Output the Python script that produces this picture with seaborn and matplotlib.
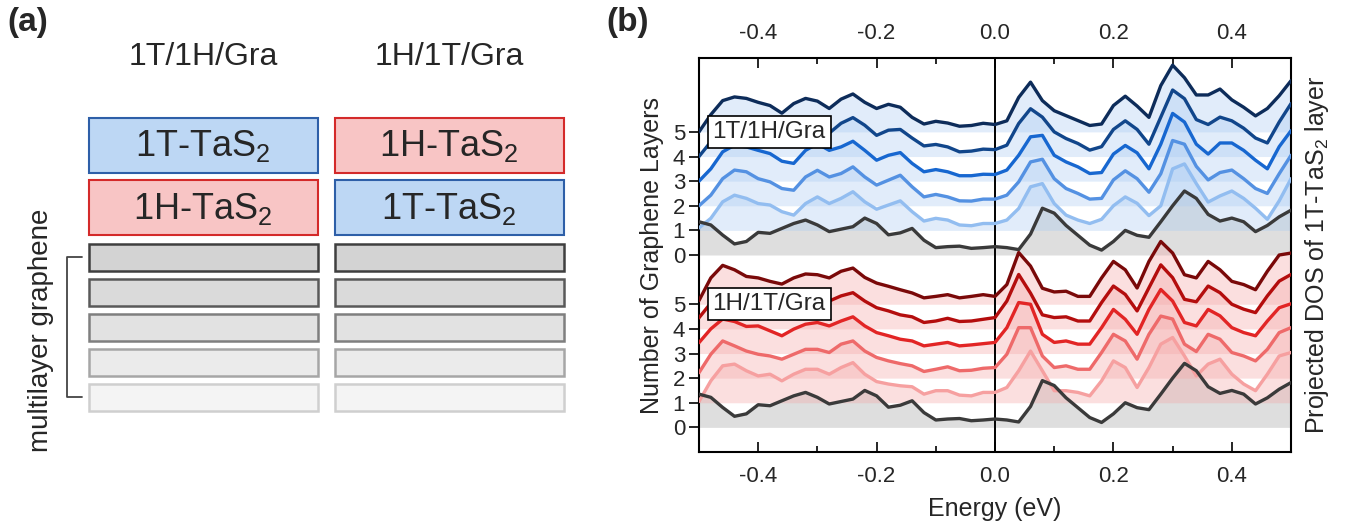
import numpy as np
import seaborn as sns
import matplotlib.pyplot as plt
from matplotlib.patches import Rectangle

sns.set_style('ticks')
plt.rcParams['font.family'] = ['Liberation Sans', 'DejaVu Sans']
plt.rcParams['mathtext.fontset'] = 'custom'
plt.rcParams['mathtext.rm'] = 'Liberation Sans'
plt.rcParams['mathtext.it'] = 'Liberation Sans:italic'

# ---------------- data ----------------
energy = [-0.50, -0.48, -0.46, -0.44, -0.42, -0.40, -0.38, -0.36, -0.34, -0.32,
          -0.30, -0.28, -0.26, -0.24, -0.22, -0.20, -0.18, -0.16, -0.14, -0.12,
          -0.10, -0.08, -0.06, -0.04, -0.02, 0.00, 0.02, 0.04, 0.06, 0.08,
          0.10, 0.12, 0.14, 0.16, 0.18, 0.20, 0.22, 0.24, 0.26, 0.28,
          0.30, 0.32, 0.34, 0.36, 0.38, 0.40, 0.42, 0.44, 0.46, 0.48, 0.50]

# 0 graphene layers (same in both stacks)
dos_gra0 = [1.35, 1.22, 0.81, 0.45, 0.55, 0.92, 0.88, 1.08, 1.28, 1.42,
            1.22, 0.95, 1.05, 1.15, 1.50, 1.28, 0.82, 0.90, 1.08, 0.60,
            0.30, 0.34, 0.36, 0.27, 0.30, 0.34, 0.30, 0.22, 0.85, 1.90,
            1.70, 1.20, 0.80, 0.40, 0.20, 0.55, 1.00, 0.80, 0.72, 1.35,
            2.00, 2.60, 2.30, 1.65, 1.38, 1.50, 1.35, 0.95, 1.20, 1.55, 1.82]

# 1T/1H/Gra, 1..5 graphene layers
dos_1t_n1 = [0.10, 0.49, 1.16, 1.43, 1.30, 1.09, 1.03, 0.76, 0.62, 1.09,
             1.36, 1.09, 1.30, 1.57, 1.16, 0.86, 1.03, 1.20, 0.76, 0.38,
             0.49, 0.42, 0.22, 0.19, 0.28, 0.28, 0.42, 0.89, 1.77, 1.90,
             1.09, 0.62, 0.42, 0.28, 0.45, 1.00, 1.36, 1.10, 0.60, 1.00,
             2.50, 2.70, 1.90, 1.15, 1.40, 1.60, 1.30, 0.90, 0.45, 1.20, 2.10]
dos_1t_n2 = [0.00, 0.43, 1.10, 1.45, 1.38, 1.10, 0.97, 0.70, 0.63, 1.17,
             1.44, 1.17, 1.31, 1.58, 1.17, 0.84, 1.04, 1.24, 0.77, 0.36,
             0.46, 0.36, 0.20, 0.19, 0.27, 0.27, 0.43, 0.97, 1.78, 1.89,
             1.10, 0.70, 0.50, 0.27, 0.30, 1.05, 1.42, 1.10, 0.55, 1.30,
             2.65, 2.50, 1.60, 1.05, 1.35, 1.45, 1.10, 0.70, 0.50, 1.30, 2.05]
dos_1t_n3 = [0.00, 0.50, 1.19, 1.46, 1.39, 1.25, 1.12, 0.81, 0.72, 1.25,
             1.52, 1.25, 1.39, 1.62, 1.25, 0.85, 1.05, 1.16, 0.72, 0.38,
             0.47, 0.38, 0.22, 0.22, 0.28, 0.27, 0.45, 1.05, 1.80, 1.86,
             1.05, 0.78, 0.58, 0.31, 0.35, 1.10, 1.45, 1.15, 0.50, 1.50,
             2.75, 2.40, 1.50, 1.10, 1.55, 1.55, 1.25, 0.85, 0.50, 1.40, 2.05]
dos_1t_n4 = [0.00, 0.60, 1.20, 1.40, 1.30, 1.15, 1.00, 0.75, 1.10, 1.30,
             1.20, 0.95, 1.35, 1.58, 1.27, 0.86, 1.07, 1.10, 0.75, 0.43,
             0.49, 0.39, 0.19, 0.22, 0.30, 0.28, 0.46, 1.34, 1.94, 1.60,
             1.00, 0.73, 0.53, 0.26, 0.40, 1.10, 1.45, 1.10, 0.50, 1.60,
             2.70, 2.35, 1.50, 1.30, 1.60, 1.45, 1.15, 0.75, 0.55, 1.40, 2.15]
dos_1t_n5 = [0.00, 0.70, 1.27, 1.42, 1.36, 1.20, 1.07, 0.76, 1.15, 1.36,
             1.25, 0.95, 1.33, 1.54, 1.20, 0.95, 1.12, 1.00, 0.59, 0.32,
             0.43, 0.36, 0.23, 0.26, 0.35, 0.30, 0.45, 1.40, 2.02, 1.27,
             0.86, 0.66, 0.46, 0.26, 0.32, 1.07, 1.45, 1.05, 0.59, 1.88,
             2.71, 2.20, 1.50, 1.50, 1.74, 1.30, 1.00, 0.65, 0.95, 1.47, 2.08]

# 1H/1T/Gra, 1..5 graphene layers
dos_1h_n1 = [0.05, 0.89, 1.50, 1.57, 1.30, 1.09, 1.16, 0.89, 1.16, 1.36,
             1.36, 1.16, 1.43, 1.63, 1.16, 0.86, 0.76, 0.69, 0.65, 0.35,
             0.49, 0.49, 0.31, 0.28, 0.42, 0.42, 0.62, 1.30, 2.10, 1.30,
             0.49, 0.49, 0.42, 0.28, 0.89, 1.70, 1.43, 0.62, 1.43, 2.38,
             2.65, 1.90, 1.09, 1.57, 1.77, 1.16, 0.76, 0.49, 1.16, 1.90, 2.04]
dos_1h_n2 = [0.22, 0.97, 1.51, 1.31, 1.10, 0.97, 0.90, 0.77, 0.97, 1.17,
             1.17, 1.04, 1.38, 1.51, 1.10, 0.84, 0.70, 0.59, 0.50, 0.27,
             0.36, 0.46, 0.30, 0.32, 0.40, 0.43, 0.97, 2.05, 2.05, 0.90,
             0.43, 0.50, 0.36, 0.36, 1.04, 1.78, 1.51, 0.77, 1.78, 2.52,
             2.40, 1.38, 1.08, 1.78, 1.58, 1.04, 0.90, 0.70, 1.17, 1.85, 2.05]
dos_1h_n3 = [0.44, 1.00, 1.40, 1.30, 1.10, 1.12, 0.92, 0.72, 0.99, 1.19,
             1.26, 1.12, 1.32, 1.49, 1.12, 0.85, 0.72, 0.58, 0.51, 0.31,
             0.38, 0.45, 0.31, 0.35, 0.40, 0.45, 1.05, 2.07, 2.00, 0.78,
             0.45, 0.51, 0.38, 0.38, 1.05, 1.79, 1.39, 0.78, 1.79, 2.60,
             2.13, 1.26, 1.12, 1.79, 1.53, 1.05, 0.85, 0.72, 1.32, 1.86, 2.02]
dos_1h_n4 = [0.45, 1.05, 1.50, 1.35, 1.15, 1.05, 0.95, 0.85, 1.05, 1.20,
             1.15, 1.13, 1.34, 1.47, 1.13, 0.86, 0.73, 0.57, 0.49, 0.26,
             0.32, 0.43, 0.30, 0.32, 0.39, 0.46, 1.13, 2.21, 1.45, 0.57,
             0.46, 0.49, 0.32, 0.32, 1.07, 1.74, 1.40, 0.73, 1.67, 2.60,
             2.08, 1.20, 1.10, 1.74, 1.47, 1.00, 0.80, 0.66, 1.34, 1.94, 2.21]
dos_1h_n5 = [0.15, 1.07, 1.58, 1.40, 1.13, 1.07, 0.93, 0.82, 1.07, 1.23,
             1.20, 1.07, 1.34, 1.47, 1.09, 0.86, 0.73, 0.59, 0.46, 0.26,
             0.32, 0.39, 0.26, 0.32, 0.39, 0.32, 0.80, 2.10, 1.55, 0.65,
             0.50, 0.53, 0.32, 0.32, 1.07, 1.74, 1.40, 0.66, 1.74, 2.55,
             2.08, 1.20, 1.07, 1.74, 1.40, 0.93, 0.80, 0.59, 1.34, 2.00, 2.08]

layer_counts = [0, 1, 2, 3, 4, 5]
stack_1t = [dos_gra0, dos_1t_n1, dos_1t_n2, dos_1t_n3, dos_1t_n4, dos_1t_n5]
stack_1h = [dos_gra0, dos_1h_n1, dos_1h_n2, dos_1h_n3, dos_1h_n4, dos_1h_n5]
upper_offset = 7

blue_lines = ['#3a3a3a', '#92bdf0', '#5491e2', '#1767d0', '#11468b', '#0d2c5a']
red_lines = ['#3a3a3a', '#f6a0a0', '#ee6a6a', '#e22525', '#b40d0d', '#7a0909']

x_major = [-0.4, -0.2, 0.0, 0.2, 0.4]
x_minor = [-0.3, -0.1, 0.1, 0.3]

# panel (a) schematic
col_titles = ['1T/1H/Gra', '1H/1T/Gra']
col_layers = [['1T-TaS$_2$', '1H-TaS$_2$'], ['1H-TaS$_2$', '1T-TaS$_2$']]
phase_fill = {'1T': '#bdd7f4', '1H': '#f8c5c5'}
phase_edge = {'1T': '#2e5fa8', '1H': '#d42a2a'}
gra_fill = ['#d3d3d3', '#dadada', '#e2e2e2', '#ebebeb', '#f4f4f4']
gra_edge = ['#3f3f3f', '#595959', '#7f7f7f', '#a6a6a6', '#cfcfcf']

# ---------------- figure ----------------
fig = plt.figure(figsize=(13.62, 5.27), dpi=100)

# panel (a): drawn in pixel coordinates
axa = fig.add_axes([0, 0, 0.5, 1])
axa.set_xlim(0, 681)
axa.set_ylim(527, 0)
axa.axis('off')

col_x = [88.5, 334.6]
col_w = 229
for ci, (title, layers) in enumerate(zip(col_titles, col_layers)):
    cx = col_x[ci] + col_w / 2
    axa.text(cx, 57, title, fontsize=23, ha='center', va='center')
    for ri, lab in enumerate(layers):
        top = 117.5 + ri * 62.7
        ph = lab[:2]
        axa.add_patch(Rectangle((col_x[ci], top), col_w, 55, fc=phase_fill[ph],
                                ec=phase_edge[ph], lw=1.5))
        axa.text(cx, top + 29, lab, fontsize=26, ha='center', va='center')
    for gi in range(len(gra_fill)):
        top = 243.5 + gi * 35.2
        axa.add_patch(Rectangle((col_x[ci], top), col_w, 27, fc=gra_fill[gi],
                                ec=gra_edge[gi], lw=1.8))

axa.plot([81.5, 67.3, 67.3, 81.5], [256.7, 256.7, 397.3, 397.3], color='#444444', lw=1.3)
axa.text(41.5, 330, 'multilayer graphene', rotation=90, fontsize=20, ha='center', va='center')
axa.text(7, 22, '(a)', fontsize=24, fontweight='bold', ha='left', va='center')
axa.text(606, 22, '(b)', fontsize=24, fontweight='bold', ha='left', va='center')

# panel (b): projected DOS
ax = fig.add_axes([0.5132, 0.1423, 0.4347, 0.7476])
x = np.array(energy)

groups = [(stack_1t, blue_lines, '#a9cbf2', upper_offset),
          (stack_1h, red_lines, '#f4a6a6', 0)]
for stack, lines, fillc, off in groups:
    for n, dos in zip(layer_counts, stack):
        base = off + n
        y = base + np.array(dos)
        if n == 0:
            ax.fill_between(x, base, y, color='#c4c4c4', alpha=0.55, lw=0, zorder=1)
        else:
            ax.fill_between(x, base, y, color=fillc, alpha=0.35, lw=0, zorder=1)
    for n in layer_counts[::-1]:
        y = off + n + np.array(stack[n])
        sns.lineplot(x=x, y=y, ax=ax, color=lines[n], lw=2.4, zorder=3,
                     solid_joinstyle='round', solid_capstyle='round')

ax.axvline(0, color='black', lw=1.4, zorder=2)

ax.text(-0.477, upper_offset + 5.0, '1T/1H/Gra', fontsize=17.5, ha='left', va='center',
        zorder=6, bbox=dict(boxstyle='square,pad=0.2', fc='white', ec='black', lw=1.2))
ax.text(-0.477, 5.0, '1H/1T/Gra', fontsize=17.5, ha='left', va='center',
        zorder=6, bbox=dict(boxstyle='square,pad=0.2', fc='white', ec='black', lw=1.2))

ax.set_xlim(-0.5, 0.5)
ax.set_ylim(-1, 15)
ax.set_xticks(x_major)
ax.set_xticklabels([f'{v:.1f}' for v in x_major])
ax.set_xticks(x_minor, minor=True)
yt = layer_counts + [upper_offset + n for n in layer_counts]
ax.set_yticks(yt)
ax.set_yticklabels([str(n) for n in layer_counts] * 2)

ax.tick_params(axis='x', which='both', direction='in', top=True, bottom=True,
               labeltop=True, labelbottom=True, labelsize=16, pad=10, width=1.4)
ax.tick_params(axis='x', which='major', length=7)
ax.tick_params(axis='x', which='minor', length=4)
ax.tick_params(axis='y', direction='out', length=7, width=1.4, labelsize=16, pad=3,
               right=False)
for sp in ax.spines.values():
    sp.set_linewidth(1.5)
    sp.set_color('black')

ax.set_xlabel('Energy (eV)', fontsize=18, labelpad=7)
ax.set_ylabel('Number of Graphene Layers', fontsize=18, labelpad=6)
ax.text(1.02, 0.5, 'Projected DOS of 1T-TaS$_2$ layer', rotation=90, fontsize=18,
        ha='left', va='center', transform=ax.transAxes)

fig.savefig('out.png', dpi=100)
